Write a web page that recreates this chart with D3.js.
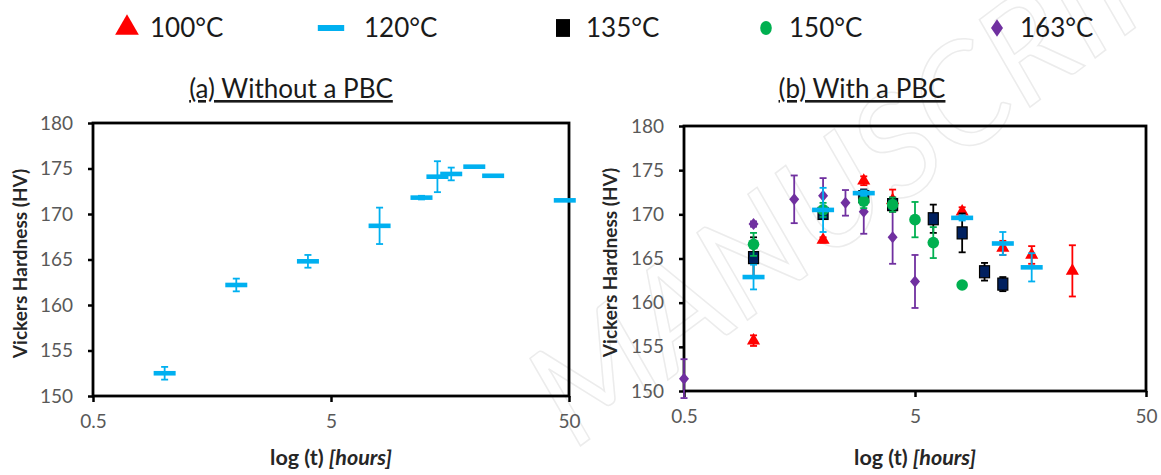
<!DOCTYPE html>
<html>
<head>
<meta charset="utf-8">
<script src="https://cdn.jsdelivr.net/npm/d3@7"></script>
<style>
  body { margin: 0; background: #fff; }
  text { font-family: Lato, "Open Sans", sans-serif; }
</style>
</head>
<body>
<svg width="1161" height="475"></svg>
<script>
// series data (t in hours, hardness in HV)
var leftT   = [1, 2, 4, 8, 12, 14, 16, 20, 24, 48];
var leftHV  = [152.5, 162.2, 164.8, 168.7, 171.8, 174.1, 174.4, 175.2, 174.2, 171.5];
var leftErr = [0.7, 0.7, 0.7, 2.0, 0.2, 1.7, 0.7, 0, 0, 0];

var t100   = [1, 2, 3, 4, 8, 12, 16, 24];
var hv100  = [155.7, 167.1, 173.8, 171.6, 170.3, 166.2, 165.4, 163.6];
var err100 = [0.6, 0.3, 0.5, 1.2, 0.5, 0.8, 1.0, 2.9];

var t120   = [1, 2, 3, 8, 12, 16];
var hv120  = [162.9, 170.5, 172.4, 169.6, 166.7, 164.0];
var err120 = [1.4, 2.5, 0.3, 0.3, 1.3, 1.6];

var t135   = [1, 2, 3, 4, 6, 8, 10, 12];
var hv135  = [165.1, 170.1, 172.0, 171.1, 169.5, 167.9, 163.5, 162.1];
var err135 = [2.3, 0.5, 0.8, 0.8, 1.6, 2.2, 1.0, 0.8];

var t150   = [1, 2, 3, 4, 5, 6, 8];
var hv150  = [166.6, 170.5, 171.5, 171.1, 169.4, 166.8, 162.0];
var err150 = [1.3, 0.8, 0.8, 0.8, 2.0, 1.75, 0];

var t163   = [0.5, 1, 1.5, 2, 2.5, 3, 4, 5];
var hv163  = [151.4, 168.9, 171.7, 172.1, 171.3, 170.3, 167.4, 162.4];
var err163 = [2.2, 0.3, 2.7, 2.0, 1.45, 2.5, 3.0, 3.0];

var legendLabels = ["100°C", "120°C", "135°C", "150°C", "163°C"];
var xTicks = [0.5, 5, 50];
var yTicks = [150, 155, 160, 165, 170, 175, 180];

var svg = d3.select("svg");

// styles per series
var styles = {
    "100°C": { kind: "triangle", color: "#ff0000", bar: "#ff0000" },
    "120°C": { kind: "dash",     color: "#00b0f0", bar: "#00b0f0" },
    "135°C": { kind: "square",   color: "#002060", bar: "#000000" },
    "150°C": { kind: "circle",   color: "#00b050", bar: "#00b050" },
    "163°C": { kind: "diamond",  color: "#7030a0", bar: "#7030a0" }
};

function zip(t, hv, err) {
    return t.map(function (d, i) { return { t: d, hv: hv[i], err: err[i] }; });
}

// faint watermark behind everything
svg.append("text")
    .attr("transform", "translate(575,450) rotate(-37)")
    .attr("font-family", "'DejaVu Serif', serif")
    .attr("font-style", "italic")
    .attr("font-size", 140)
    .attr("fill", "none")
    .attr("stroke", "#ececec")
    .attr("stroke-width", 1.5)
    .text("MANUSCRIPT");

function drawMarker(g, kind, color) {
    if (kind == "dash") {
        g.append("rect").attr("x", -11).attr("y", -2.3).attr("width", 22).attr("height", 4.6)
            .attr("fill", color);
    } else if (kind == "square") {
        g.append("rect").attr("x", -5).attr("y", -6).attr("width", 10).attr("height", 12)
            .attr("fill", color).attr("stroke", "#000").attr("stroke-width", 1.2);
    } else if (kind == "circle") {
        g.append("circle").attr("r", 5.8).attr("fill", color);
    } else if (kind == "triangle") {
        g.append("path").attr("d", d3.symbol().type(d3.symbolTriangle).size(75)).attr("fill", color);
    } else {
        g.append("path").attr("d", "M0,-6L5,0L0,6L-5,0Z").attr("fill", color);
    }
}

function makePanel(opt) {
    var x = d3.scaleLog().domain([0.5, 50]).range([opt.x0, opt.x1]);
    var y = d3.scaleLinear().domain([150, 180]).range([opt.y1, opt.y0]);

    var g = svg.append("g");

    // title with underline
    g.append("text")
        .attr("x", opt.titleX)
        .attr("y", 98)
        .attr("text-anchor", "middle")
        .attr("font-size", 26)
        .attr("fill", "#1a1a1a")
        .attr("text-decoration", "underline")
        .text(opt.title);

    var xAxis = g.append("g")
        .attr("transform", "translate(0," + opt.y1 + ")")
        .call(d3.axisBottom(x).tickValues(xTicks).tickFormat(function (d) { return d; })
            .tickSize(6).tickPadding(13));
    var yAxis = g.append("g")
        .attr("transform", "translate(" + opt.x0 + ",0)")
        .call(d3.axisLeft(y).tickValues(yTicks).tickSize(5).tickPadding(15));

    [xAxis, yAxis].forEach(function (a) {
        a.select(".domain").remove();
        a.selectAll(".tick line").attr("stroke", "#000").attr("stroke-width", 2.5);
        a.selectAll(".tick text").attr("font-size", 19).attr("fill", "#595959")
            .attr("font-family", "Lato, sans-serif");
    });

    g.append("rect")
        .attr("x", opt.x0).attr("y", opt.y0)
        .attr("width", opt.x1 - opt.x0).attr("height", opt.y1 - opt.y0)
        .attr("fill", "none").attr("stroke", "#000").attr("stroke-width", 2.8);

    // axis titles
    g.append("text")
        .attr("transform", "translate(" + opt.yTitleX + "," + ((opt.y0 + opt.y1) / 2 + 4) + ") rotate(-90)")
        .attr("text-anchor", "middle")
        .attr("dy", "0.35em")
        .attr("font-size", 19)
        .attr("font-weight", "bold")
        .attr("fill", "#262626")
        .text("Vickers Hardness (HV)");

    var xt = g.append("text")
        .attr("x", (opt.x0 + opt.x1) / 2)
        .attr("y", 465)
        .attr("text-anchor", "middle")
        .attr("font-size", 21.5)
        .attr("font-weight", "bold")
        .attr("fill", "#262626");
    xt.append("tspan").text("log (t) ");
    xt.append("tspan").attr("font-style", "italic").text("[hours]");

    var plot = g.append("g");
    opt.series.forEach(function (s) {
        var st = styles[s.name];
        var pts = plot.selectAll(null).data(s.data).enter().append("g")
            .attr("transform", function (d) { return "translate(" + x(d.t) + "," + y(d.hv) + ")"; });
        pts.filter(function (d) { return d.err > 0; }).each(function (d) {
            var e = d3.select(this);
            var h = y(d.hv - d.err) - y(d.hv);
            e.append("line").attr("y1", -h).attr("y2", h)
                .attr("stroke", st.bar).attr("stroke-width", 1.8);
            e.append("line").attr("x1", -3.5).attr("x2", 3.5).attr("y1", -h).attr("y2", -h)
                .attr("stroke", st.bar).attr("stroke-width", 1.8);
            e.append("line").attr("x1", -3.5).attr("x2", 3.5).attr("y1", h).attr("y2", h)
                .attr("stroke", st.bar).attr("stroke-width", 1.8);
        });
        pts.each(function () { drawMarker(d3.select(this), st.kind, st.color); });
    });
}

makePanel({
    x0: 93, x1: 569, y0: 123, y1: 396,
    title: "(a) Without a PBC", titleX: 291, yTitleX: 20,
    series: [{ name: "120°C", data: zip(leftT, leftHV, leftErr) }]
});

makePanel({
    x0: 684, x1: 1146, y0: 126, y1: 391,
    title: "(b) With a PBC", titleX: 862, yTitleX: 610,
    series: [
        { name: "163°C", data: zip(t163, hv163, err163) },
        { name: "100°C", data: zip(t100, hv100, err100) },
        { name: "135°C", data: zip(t135, hv135, err135) },
        { name: "150°C", data: zip(t150, hv150, err150) },
        { name: "120°C", data: zip(t120, hv120, err120) }
    ]
});

// legend across the top
var legendX = [127, 331, 563, 766, 997];
var legendScale = { triangle: "scale(1.8)", dash: "scale(1.2,1.3)", square: "scale(1.25,1.35)",
                    circle: "scale(1.0,1.2)", diamond: "scale(1.2,1.45)" };
var legend = svg.append("g").selectAll("g").data(legendLabels).enter().append("g")
    .attr("transform", function (d, i) { return "translate(" + legendX[i] + ",28)"; });
legend.each(function (d) {
    var st = styles[d];
    var m = d3.select(this).append("g").attr("transform", legendScale[st.kind]);
    drawMarker(m, st.kind, st.kind == "square" ? "#000" : st.color);
});
legend.append("text")
    .attr("x", function (d) { return styles[d].kind == "dash" ? 33 : 23; })
    .attr("dy", "0.36em")
    .attr("font-size", 26)
    .attr("fill", "#1a1a1a")
    .text(function (d) { return d; });
</script>
</body>
</html>
